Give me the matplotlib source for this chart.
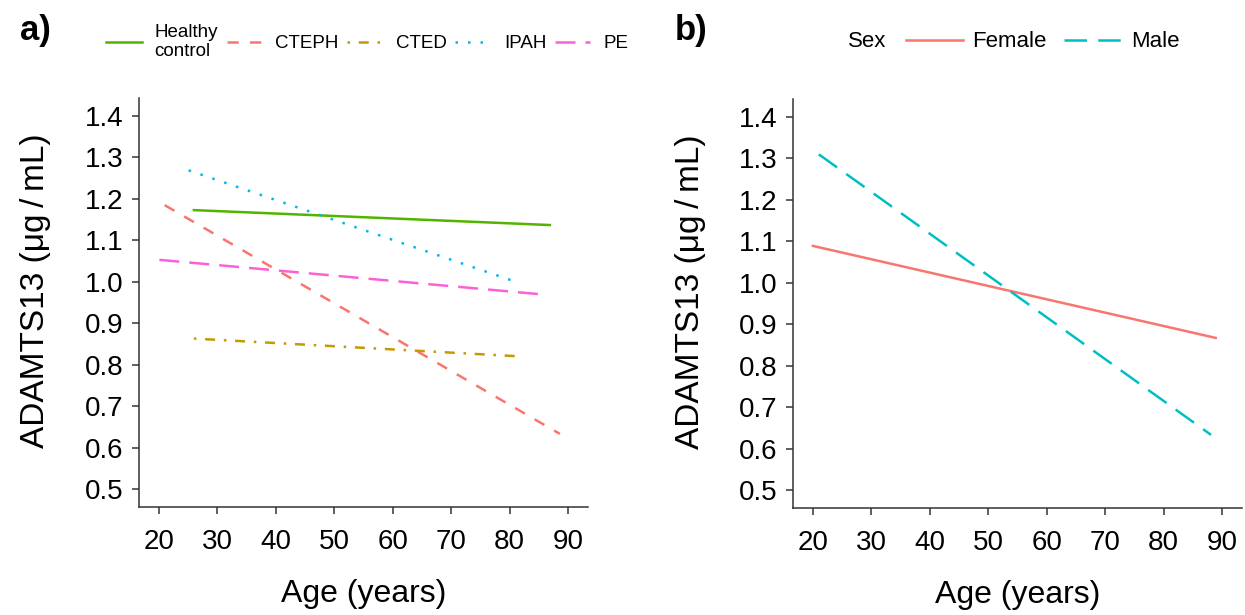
import matplotlib
matplotlib.use("Agg")
from matplotlib import pyplot as plt

plt.rcParams['font.family'] = ['Liberation Sans', 'DejaVu Sans']

# Panel a: fitted lines per diagnosis (start/end age and ADAMTS13)
grupos = ['Healthy\ncontrol', 'CTEPH', 'CTED', 'IPAH', 'PE']
idade_a = [[26.0, 86.9], [21.0, 88.6], [26.0, 81.8], [25.1, 81.5], [20.1, 86.0]]
adamts_a = [[1.173, 1.137], [1.185, 0.633], [0.863, 0.820], [1.269, 0.998], [1.053, 0.969]]
cores_a = ['#53B400', '#F8766D', '#C49A00', '#00B6EB', '#FB61D7']
estilos_a = ['-', (0, (4.5, 4.5)), (0, (1, 3.5, 4, 3.5)), (0, (1, 4)), (0, (8, 4))]

# Panel b: fitted lines per sex
sexos = ['Female', 'Male']
idade_b = [[20.0, 88.9], [21.0, 88.1]]
adamts_b = [[1.089, 0.867], [1.310, 0.633]]
cores_b = ['#F8766D', '#00BFC4']
estilos_b = ['-', (0, (9, 4.5))]

xticks = [20, 30, 40, 50, 60, 70, 80, 90]
yticks = [0.5, 0.6, 0.7, 0.8, 0.9, 1.0, 1.1, 1.2, 1.3, 1.4]

fig = plt.figure(figsize=(12.45, 6.15), dpi=100)
ax_a = fig.add_axes([0.1116, 0.1756, 0.3606, 0.665])
ax_b = fig.add_axes([0.637, 0.1740, 0.3606, 0.665])


def formata(ax):
    ax.set_xlim(16.6, 93.4)
    ax.set_ylim(0.4565, 1.4435)
    ax.set_xticks(xticks)
    ax.set_yticks(yticks)
    ax.set_yticklabels([f'{v:.1f}' for v in yticks])
    for lado in ['top', 'right']:
        ax.spines[lado].set_visible(False)
    for lado in ['left', 'bottom']:
        ax.spines[lado].set_color('#333333')
        ax.spines[lado].set_linewidth(1.1)
    ax.tick_params(labelsize=20, length=5, width=1.1, color='#333333')
    ax.tick_params(axis='x', pad=11)
    ax.tick_params(axis='y', pad=6)
    ax.set_xlabel('Age (years)', fontsize=23, labelpad=17)
    ax.set_ylabel('ADAMTS13 (μg\u2009/\u2009mL)', fontsize=24)
    ax.yaxis.set_label_coords(-0.195, 0.53)


for g, x, y, c, ls in zip(grupos, idade_a, adamts_a, cores_a, estilos_a):
    ax_a.plot(x, y, color=c, linestyle=ls, linewidth=1.8, label=g)
formata(ax_a)

for s, x, y, c, ls in zip(sexos, idade_b, adamts_b, cores_b, estilos_b):
    ax_b.plot(x, y, color=c, linestyle=ls, linewidth=1.8, label=s)
formata(ax_b)

h, l = ax_a.get_legend_handles_labels()
fig.legend(h, l, loc='center', bbox_to_anchor=(0.295, 0.932), ncol=5, frameon=False,
           fontsize=13.5, handlelength=1.9, handletextpad=0.7, columnspacing=0.45)

h, l = ax_b.get_legend_handles_labels()
fig.legend(h, l, loc='center', bbox_to_anchor=(0.8374, 0.932), ncol=2, frameon=False,
           fontsize=16, handlelength=2.6, handletextpad=0.4, columnspacing=0.8)
fig.text(0.681, 0.932, 'Sex', fontsize=16, ha='left', va='center')

fig.text(0.016, 0.95, 'a)', fontsize=25, fontweight='bold', va='center')
fig.text(0.542, 0.95, 'b)', fontsize=25, fontweight='bold', va='center')

plt.savefig('out.png', dpi=100)
